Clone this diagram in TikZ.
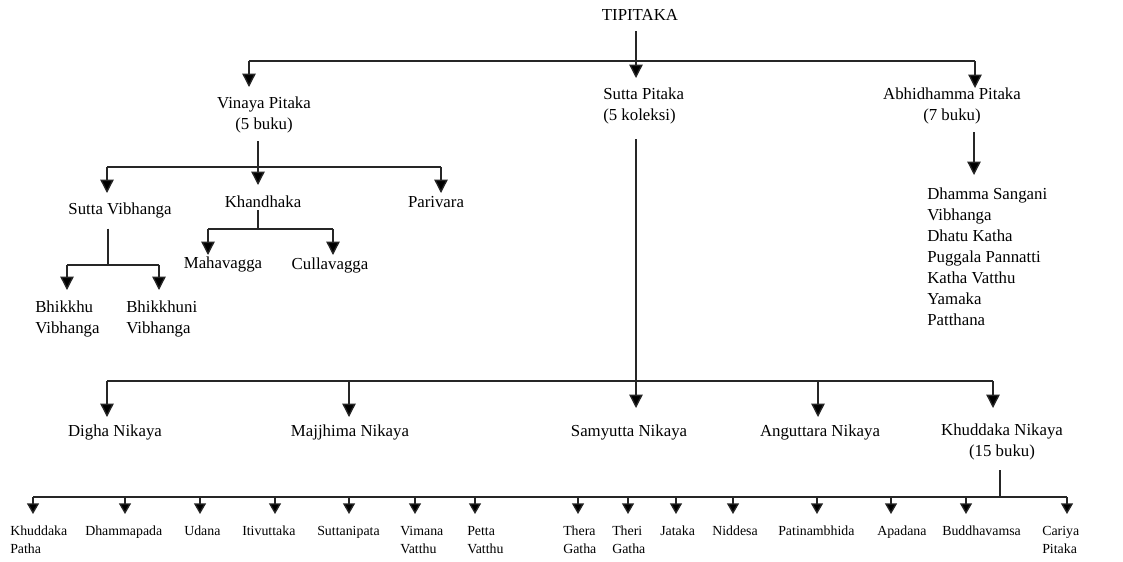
\documentclass[tikz,border=0pt]{standalone}
\usepackage{fontspec}
\setmainfont{Liberation Serif}
\usetikzlibrary{arrows.meta}
\begin{document}
\begin{tikzpicture}[x=0.75pt,y=-0.75pt,
  lbl/.style={inner sep=0pt, font=\fontsize{12.6}{15.75}\selectfont, align=center},
  lbll/.style={lbl, align=left},
  small/.style={inner sep=0pt, anchor=north west, align=left, font=\fontsize{10.4}{13.5}\selectfont},
  ln/.style={line width=1pt, draw=black!85},
  arr/.style={ln, -{Triangle[width=10pt,length=10pt,fill=black]}},
  sarr/.style={ln, -{Triangle[width=9pt,length=8pt,fill=black]}}]
\useasboundingbox[fill=white] (0,0) rectangle (1123,561);

% ---------- text nodes ----------
\node[lbl] (tipi) at (640,15) {TIPITAKA};
\node[lbl] (vin) at (264,115) {Vinaya Pitaka\\(5 buku)};
\node[lbll, anchor=west] (sut) at (603,106) {Sutta Pitaka\\(5 koleksi)};
\node[lbl] (abh) at (952,106) {Abhidhamma Pitaka\\(7 buku)};

\node[lbl] (sv) at (120,210) {Sutta Vibhanga};
\node[lbl] (kha) at (263,202) {Khandhaka};
\node[lbl] (par) at (436,202) {Parivara};
\node[lbl] (mah) at (223,264.5) {Mahavagga};
\node[lbl] (cul) at (330,265) {Cullavagga};
\node[lbll, anchor=west] (bhu) at (35,319) {Bhikkhu\\Vibhanga};
\node[lbll, anchor=west] (bhi) at (126,319) {Bhikkhuni\\Vibhanga};

\node[lbll, anchor=west] (abl) at (927,257) {Dhamma Sangani\\Vibhanga\\Dhatu Katha\\Puggala Pannatti\\Katha Vatthu\\Yamaka\\Patthana};

\node[lbl] (dig) at (115,432) {Digha Nikaya};
\node[lbl] (maj) at (350,432) {Majjhima Nikaya};
\node[lbl] (sam) at (629,432) {Samyutta Nikaya};
\node[lbl] (ang) at (820,432) {Anguttara Nikaya};
\node[lbl] (khu) at (1002,442) {Khuddaka Nikaya\\(15 buku)};

\node[small] (k1) at (10,522.5) {\strut Khuddaka\\Patha};
\node[small] (k2) at (85,522.5) {\strut Dhammapada};
\node[small] (k3) at (184,522.5) {\strut Udana};
\node[small] (k4) at (242,522.5) {\strut Itivuttaka};
\node[small] (k5) at (317,522.5) {\strut Suttanipata};
\node[small] (k6) at (400,522.5) {\strut Vimana\\Vatthu};
\node[small] (k7) at (467,522.5) {\strut Petta\\Vatthu};
\node[small] (k8) at (563,522.5) {\strut Thera\\Gatha};
\node[small] (k9) at (612,522.5) {\strut Theri\\Gatha};
\node[small] (k10) at (660,522.5) {\strut Jataka};
\node[small] (k11) at (712,522.5) {\strut Niddesa};
\node[small] (k12) at (778,522.5) {\strut Patinambhida};
\node[small] (k13) at (877,522.5) {\strut Apadana};
\node[small] (k14) at (942,522.5) {\strut Buddhavamsa};
\node[small] (k15) at (1042,522.5) {\strut Cariya\\Pitaka};

% ---------- junctions and arrow tips ----------
\coordinate (jTop) at (636,61);
\coordinate (tVin) at (249,87);
\coordinate (tSut) at (636,78);
\coordinate (tAbh) at (975,88);

\coordinate (jVin) at (258,167);
\coordinate (tSV) at (107,193);
\coordinate (tKh) at (258,185);
\coordinate (tPa) at (441,193);

\coordinate (jKh) at (258,229);
\coordinate (tMa) at (208,255);
\coordinate (tCu) at (333,255);

\coordinate (jSV) at (108,265);
\coordinate (tBu) at (67,290);
\coordinate (tBi) at (159,290);

\coordinate (tAL) at (974,175);

\coordinate (jSut) at (636,381);
\coordinate (tDi) at (107,417);
\coordinate (tMj) at (349,417);
\coordinate (tSa) at (636,408);
\coordinate (tAn) at (818,417);
\coordinate (tKn) at (993,408);

\coordinate (jKn) at (1000,497);
\foreach \i/\x in {1/33,2/125,3/200,4/275,5/349,6/415,7/475,8/578,9/628,10/676,11/733,12/817,13/891,14/966,15/1067}
  \coordinate (b\i) at (\x,514);

% ---------- connectors ----------
% Tipitaka
\draw[ln] (tVin |- jTop) -- (tAbh |- jTop);
\draw[arr] (tVin |- jTop) -- (tVin);
\draw[arr] (tAbh |- jTop) -- (tAbh);
\draw[arr, shorten <=8pt] (tipi.south -| tSut) -- (tSut);

% Vinaya
\draw[arr, shorten <=6pt] (vin.south -| tKh) -- (tKh);
\draw[ln] (tSV |- jVin) -- (tPa |- jVin);
\draw[arr] (tSV |- jVin) -- (tSV);
\draw[arr] (tPa |- jVin) -- (tPa);

% Khandhaka
\draw[ln, shorten <=1.5pt] (kha.south -| jKh) -- (jKh);
\draw[ln] (tMa |- jKh) -- (tCu |- jKh);
\draw[arr] (tMa |- jKh) -- (tMa);
\draw[arr] (tCu |- jKh) -- (tCu);

% Sutta Vibhanga
\draw[ln, shorten <=8pt] (sv.south -| jSV) -- (jSV);
\draw[ln] (tBu |- jSV) -- (tBi |- jSV);
\draw[arr] (tBu |- jSV) -- (tBu);
\draw[arr] (tBi |- jSV) -- (tBi);

% Abhidhamma
\draw[arr, shorten <=6pt] (abh.south -| tAL) -- (tAL);

% Sutta Pitaka
\draw[ln, shorten <=11pt] (sut.south -| jSut) -- (jSut);
\draw[ln] (tDi |- jSut) -- (tKn |- jSut);
\foreach \t in {tDi,tMj,tSa,tAn,tKn}
  \draw[arr] (\t |- jSut) -- (\t);

% Khuddaka Nikaya
\draw[ln, shorten <=7.5pt] (khu.south -| jKn) -- (jKn);
\draw[ln] (b1 |- jKn) -- (b15 |- jKn);
\foreach \i in {1,...,15}
  \draw[sarr] (b\i |- jKn) -- (b\i);
\end{tikzpicture}
\end{document}
